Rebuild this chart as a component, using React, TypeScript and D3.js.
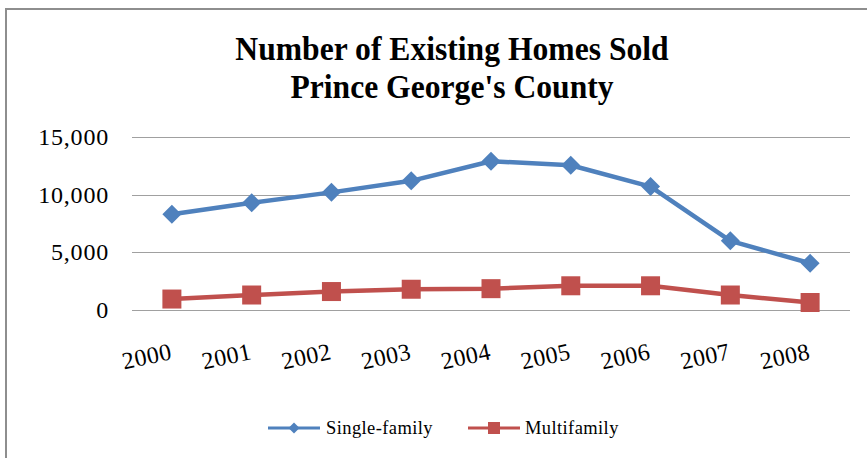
import React from "react";
import * as d3 from "d3";

const years = ["2000", "2001", "2002", "2003", "2004", "2005", "2006", "2007", "2008"];
const singleFamily = [8300, 9300, 10200, 11200, 12900, 12550, 10700, 6000, 4050];
const multifamily = [950, 1300, 1600, 1800, 1850, 2100, 2100, 1300, 650];
const yTicks = [0, 5000, 10000, 15000];
const titleLines = ["Number of Existing Homes Sold", "Prince George's County"];
const seriesNames = ["Single-family", "Multifamily"];

const W = 867;
const H = 458;
const BLUE = "#4F81BD";
const RED = "#C0504D";
const FONT = "'Liberation Serif', 'Times New Roman', serif";

export default function App() {
  const x = d3.scalePoint<string>().domain(years).range([132, 850]).padding(0.5);
  const y = d3.scaleLinear().domain([0, 15000]).range([310, 137]);
  const fmt = d3.format(",");

  const line = d3
    .line<number>()
    .x((_, i) => x(years[i]) as number)
    .y((d) => y(d));

  const diamond = (cx: number, cy: number, r: number) =>
    `M${cx},${cy - r}L${cx + r},${cy}L${cx},${cy + r}L${cx - r},${cy}Z`;

  return (
    <svg
      width={W}
      height={H}
      style={{ position: "absolute", left: 0, top: 0, background: "#fff" }}
      fontFamily={FONT}
    >
      <rect x={0} y={0} width={W} height={H} fill="#fff" />
      {/* border */}
      <line x1={5} x2={W} y1={9} y2={9} stroke="#8e8e8e" strokeWidth={2} />
      <line x1={6} x2={6} y1={8} y2={H} stroke="#8e8e8e" strokeWidth={2} />

      {/* title */}
      {titleLines.map((t, i) => (
        <text
          key={t}
          transform={`translate(452,${60 + i * 38}) scale(0.93,1)`}
          textAnchor="middle"
          fontSize={34}
          fontWeight="bold"
          fill="#000"
        >
          {t}
        </text>
      ))}

      {/* gridlines */}
      {yTicks.map((t) => (
        <line
          key={t}
          x1={132}
          x2={850}
          y1={Math.round(y(t)) + 0.5}
          y2={Math.round(y(t)) + 0.5}
          stroke="#a0a0a0"
          strokeWidth={1}
        />
      ))}
      {/* y tick labels */}
      {yTicks.map((t) => (
        <text
          key={"l" + t}
          x={109}
          y={y(t) + 8}
          textAnchor="end"
          fontSize={24}
          letterSpacing={0.8}
          fill="#000"
        >
          {fmt(t)}
        </text>
      ))}

      {/* x labels */}
      {years.map((yr) => (
        <text
          key={yr}
          transform={`translate(${(x(yr) as number) + 1},359) rotate(-12)`}
          textAnchor="end"
          fontSize={24}
          letterSpacing={0.5}
          fill="#000"
        >
          {yr}
        </text>
      ))}

      {/* single-family */}
      <path d={line(singleFamily) as string} fill="none" stroke={BLUE} strokeWidth={4.5} strokeLinejoin="round" />
      {singleFamily.map((v, i) => (
        <path key={"d" + i} d={diamond(x(years[i]) as number, y(v), 9.5)} fill={BLUE} />
      ))}

      {/* multifamily */}
      <path d={line(multifamily) as string} fill="none" stroke={RED} strokeWidth={4.5} strokeLinejoin="round" />
      {multifamily.map((v, i) => (
        <rect
          key={"s" + i}
          x={(x(years[i]) as number) - 9.5}
          y={y(v) - 9.5}
          width={19}
          height={19}
          fill={RED}
        />
      ))}

      {/* legend */}
      <g>
        <line x1={268} x2={320} y1={428} y2={428} stroke={BLUE} strokeWidth={3} />
        <path d={diamond(294, 428, 5.5)} fill={BLUE} />
        <text x={326} y={434} fontSize={18.5} letterSpacing={0.4} fill="#000">
          {seriesNames[0]}
        </text>
        <line x1={468} x2={520} y1={428} y2={428} stroke={RED} strokeWidth={3} />
        <rect x={488} y={422} width={12} height={12} fill={RED} />
        <text x={525} y={434} fontSize={18.5} letterSpacing={0.4} fill="#000">
          {seriesNames[1]}
        </text>
      </g>
    </svg>
  );
}
